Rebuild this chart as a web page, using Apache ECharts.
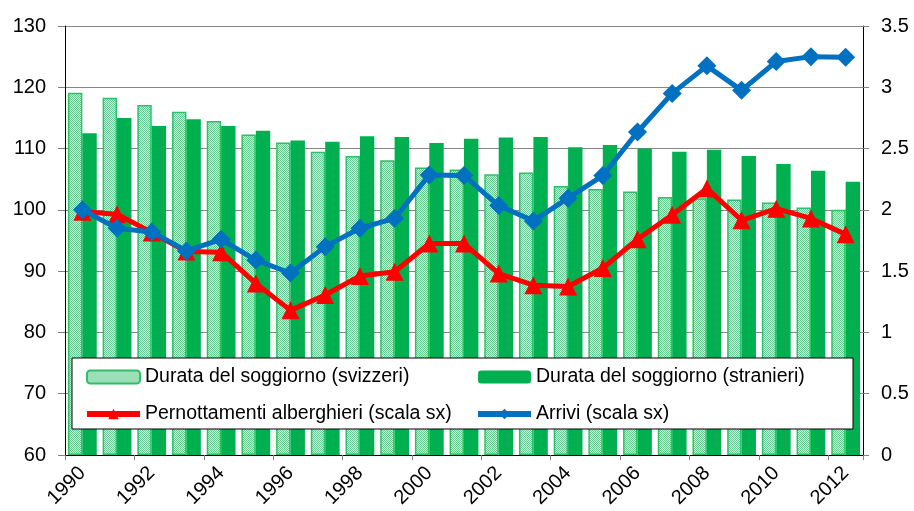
<!DOCTYPE html>
<html>
<head>
<meta charset="utf-8">
<script src="https://cdn.jsdelivr.net/npm/echarts@6/dist/echarts.min.js"></script>
<style>
html,body{margin:0;padding:0;background:#fff;}
#chart{width:914px;height:511px;}
</style>
</head>
<body>
<div id="chart"></div>
<script>
const categories = ['1990','1991','1992','1993','1994','1995','1996','1997','1998','1999','2000','2001','2002','2003','2004','2005','2006','2007','2008','2009','2010','2011','2012'];
const durataSvizzeri = [2.955,2.915,2.855,2.80,2.725,2.615,2.55,2.475,2.44,2.405,2.345,2.33,2.29,2.305,2.195,2.17,2.15,2.105,2.095,2.085,2.06,2.02,2.00];
const durataStranieri = [2.625,2.75,2.685,2.74,2.685,2.645,2.565,2.555,2.60,2.595,2.545,2.58,2.59,2.595,2.51,2.53,2.50,2.475,2.49,2.44,2.375,2.32,2.23];
const pernottamenti = [99.7,99.3,96.3,93.2,93.1,88.0,83.6,86.1,89.2,89.9,94.5,94.5,89.6,87.7,87.5,90.5,95.2,99.2,103.5,98.3,100.2,98.6,96.0];
const arrivi = [100,97.0,96.4,93.3,95.2,91.8,89.7,94.0,97.0,98.6,105.7,105.6,100.7,98.2,101.9,105.6,112.7,119.0,123.5,119.5,124.2,125.0,124.9];
const leftTicks = [60,130,10];
const rightTicks = [0,3.5,0.5];

const FONT = '"Liberation Sans", Arial, sans-serif';

// checker pattern for hatched bars
const pc = document.createElement('canvas');
pc.width = 2; pc.height = 2;
const pctx = pc.getContext('2d');
pctx.fillStyle = '#d6f2e0'; pctx.fillRect(0,0,2,2);
pctx.fillStyle = '#63ca8c'; pctx.fillRect(0,0,1,1); pctx.fillRect(1,1,1,1);

const legendCommon = {
  z: 60, orient: 'vertical', top: 367, padding: 0,
  itemWidth: 53, itemHeight: 13, itemGap: 17,
  lineStyle: {width: 6},
  textStyle: {fontSize: 19.5, color: '#000', fontFamily: FONT}
};

const chart = echarts.init(document.getElementById('chart'), null, {renderer:'canvas'});
chart.setOption({
  animation: false,
  backgroundColor: '#fff',
  textStyle: {fontFamily: FONT},
  grid: {left: 65, right: 51, top: 26, bottom: 56, containLabel: false},
  graphic: [{
    type: 'rect', z: 50,
    shape: {x: 72, y: 358, width: 781, height: 71},
    style: {fill: '#fff', stroke: '#000', lineWidth: 1}
  }],
  legend: [
    Object.assign({}, legendCommon, {left: 84, data: ['Durata del soggiorno (svizzeri)', 'Pernottamenti alberghieri (scala sx)']}),
    Object.assign({}, legendCommon, {left: 475, data: ['Durata del soggiorno (stranieri)', 'Arrivi (scala sx)']})
  ],
  xAxis: {
    type: 'category', data: categories,
    boundaryGap: true,
    axisLine: {show: true, lineStyle: {color: '#000', width: 1}},
    axisTick: {show: true, interval: 1, length: 5, lineStyle: {color: '#808080'}},
    axisLabel: {interval: 1, rotate: 45, fontSize: 20, color: '#000', margin: 15, fontFamily: FONT},
    splitLine: {show: false}
  },
  yAxis: [{
    type: 'value', min: leftTicks[0], max: leftTicks[1], interval: leftTicks[2],
    position: 'left',
    axisLine: {show: true, lineStyle: {color: '#000'}},
    axisTick: {show: true, length: 7, lineStyle: {color: '#808080'}},
    axisLabel: {fontSize: 20, color: '#000', margin: 19, fontFamily: FONT},
    splitLine: {show: true, lineStyle: {color: '#868686', width: 1}}
  },{
    type: 'value', min: rightTicks[0], max: rightTicks[1], interval: rightTicks[2],
    position: 'right',
    axisLine: {show: true, lineStyle: {color: '#000'}},
    axisTick: {show: true, length: 6, lineStyle: {color: '#808080'}},
    axisLabel: {fontSize: 20, color: '#000', margin: 18, fontFamily: FONT},
    splitLine: {show: false}
  }],
  series: [{
    name: 'Durata del soggiorno (svizzeri)', type: 'bar', yAxisIndex: 1,
    data: durataSvizzeri, barGap: '0%', barCategoryGap: '17%',
    itemStyle: {color: {image: pc, repeat: 'repeat'}, borderColor: '#2fbf68', borderWidth: 1.5}
  },{
    name: 'Durata del soggiorno (stranieri)', type: 'bar', yAxisIndex: 1,
    data: durataStranieri, barGap: '0%', barCategoryGap: '17%',
    itemStyle: {color: '#00B050'}
  },{
    name: 'Pernottamenti alberghieri (scala sx)', type: 'line', yAxisIndex: 0,
    data: pernottamenti, symbol: 'triangle', symbolSize: 18,
    lineStyle: {color: '#FF0000', width: 5}, itemStyle: {color: '#FF0000'}, z: 3
  },{
    name: 'Arrivi (scala sx)', type: 'line', yAxisIndex: 0,
    data: arrivi, symbol: 'diamond', symbolSize: 19,
    lineStyle: {color: '#0070C0', width: 5}, itemStyle: {color: '#0070C0'}, z: 4
  }]
});
</script>
</body>
</html>
